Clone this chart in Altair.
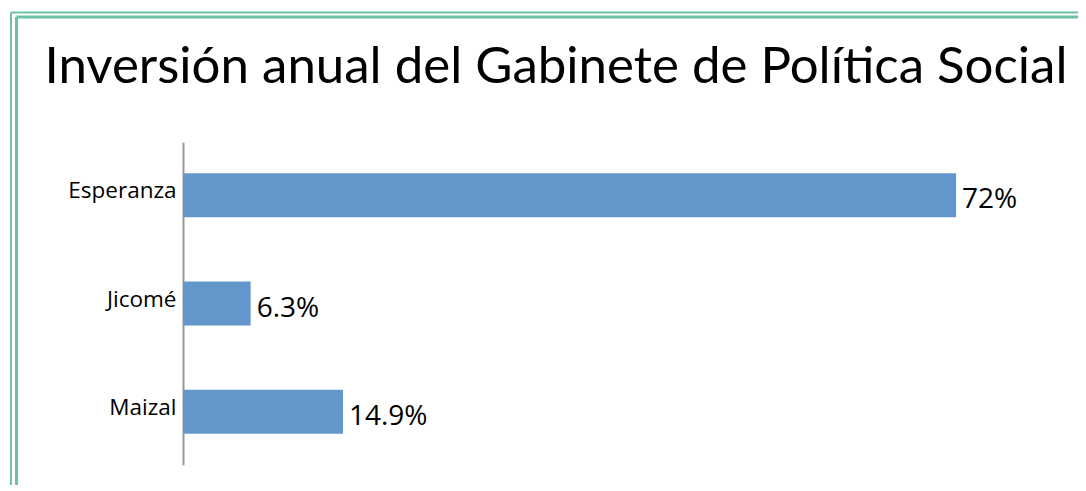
import altair as alt
import pandas as pd

title_text = "Inversión anual del Gabinete de Política Social"
categories = ["Esperanza", "Jicomé", "Maizal"]
values = [72, 6.3, 14.9]
value_labels = ["72%", "6.3%", "14.9%"]

df = pd.DataFrame({"cat": categories, "val": values, "label": value_labels})

BAR_COLOR = "#6397CB"
BORDER = "#6CC3A3"

y_enc = alt.Y(
    "cat:N",
    sort=categories,
    scale=alt.Scale(paddingInner=0.594, paddingOuter=0.29),
    axis=alt.Axis(
        title=None,
        ticks=False,
        domainColor="#999999",
        domainWidth=2,
        labelFont="Open Sans",
        labelFontSize=22.5,
        labelColor="#000000",
        labelPadding=7,
        labelBaseline="alphabetic",
        labelOffset=3,
    ),
)
x_enc = alt.X("val:Q", scale=alt.Scale(domain=[0, 80]), axis=None)

bars = alt.Chart(df).mark_bar(color=BAR_COLOR).encode(x=x_enc, y=y_enc)
texts = alt.Chart(df).mark_text(
    align="left", baseline="alphabetic", dx=6, dy=13,
    font="Open Sans", fontSize=28, color="#000000"
).encode(x=x_enc, y=y_enc, text="label:N")

one = alt.Data(values=[{"a": 1}])
title_mark = alt.Chart(one).mark_text(
    text=title_text, font="Lato", fontSize=51, color="#000000",
    align="center", baseline="alphabetic"
).encode(x=alt.value(373), y=alt.value(-59))

frame = [
    alt.Chart(one).mark_rule(color=BORDER, strokeWidth=2).encode(
        x=alt.value(-172), y=alt.value(-129.5), y2=alt.value(360)),
    alt.Chart(one).mark_rule(color=BORDER, strokeWidth=3).encode(
        x=alt.value(-166.5), y=alt.value(-125), y2=alt.value(360)),
    alt.Chart(one).mark_rule(color=BORDER, strokeWidth=2).encode(
        y=alt.value(-129.5), x=alt.value(-172), x2=alt.value(920)),
    alt.Chart(one).mark_rule(color=BORDER, strokeWidth=3).encode(
        y=alt.value(-125), x=alt.value(-166.5), x2=alt.value(920)),
    alt.Chart(one).mark_rule(color="#E4EEEA", strokeWidth=2).encode(
        y=alt.value(346), x=alt.value(-166.5), x2=alt.value(920)),
]

chart = alt.layer(*frame, title_mark, bars, texts).properties(
    width=859,
    height=323,
    autosize=alt.AutoSizeParams(type="none"),
    padding={"left": 175, "top": 134, "right": 36, "bottom": 20},
    background="white",
).configure_view(stroke=None)

chart.save("out.html", embed_options={"renderer": "svg", "actions": False})
